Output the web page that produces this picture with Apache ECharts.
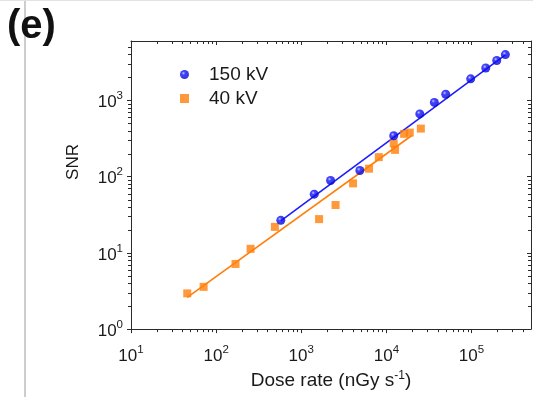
<!DOCTYPE html>
<html>
<head>
<meta charset="utf-8">
<style>
  html, body { margin: 0; padding: 0; background: #fff; }
  #chart { width: 533px; height: 397px; }
</style>
<script src="https://cdn.jsdelivr.net/npm/echarts@6/dist/echarts.min.js"></script>
</head>
<body>
<div id="chart"></div>
<script>
// Signal-to-noise ratio versus dose rate for two tube voltages (log-log)
const seriesNames = ['150 kV', '40 kV'];

// 150 kV measurements: [dose rate (nGy/s), SNR]
const dose150 = [575, 1420, 2210, 4880, 12200, 24700, 36600, 49800, 97800, 147000, 198000, 250000];
const snr150  = [26.7, 58.8, 89, 120, 343, 664, 939, 1200, 1915, 2655, 3330, 3980];

// 40 kV measurements
const dose40 = [45.8, 71.3, 169, 254, 490, 1620, 2530, 4060, 6260, 8150, 12200, 12650, 16150, 18840, 25400];
const snr40  = [2.94, 3.58, 7.15, 11.3, 21.9, 27.7, 42.4, 81.5, 127, 180, 273, 224, 363, 378, 426];

// Power-law fit lines (end points)
const fit150Dose = [575, 250000];
const fit150Snr  = [26.2, 3940];
const fit40Dose  = [45.8, 19900];
const fit40Snr   = [2.61, 346];

// Axis ranges and decade tick labels
const xRange = [10, 500000];
const yRange = [1, 6000];
const xDecades = [1, 2, 3, 4, 5];
const yDecades = [0, 1, 2, 3];

const FONT = '"Liberation Sans", Arial, Helvetica, sans-serif';
const INK = '#1a1a1a';
const AXIS = '#2a2a2a';

const pairs = (xs, ys) => xs.map((x, i) => [x, ys[i]]);

// Minor tick positions at 2..9 of each decade inside the range
function minorTicks(range) {
  const out = [];
  for (let d = Math.floor(Math.log10(range[0])); d <= Math.ceil(Math.log10(range[1])); d++) {
    for (let m = 2; m <= 9; m++) {
      const v = m * Math.pow(10, d);
      if (v > range[0] && v < range[1]) out.push(v);
    }
  }
  return out;
}

function decadeLabel(decades) {
  return function (v) {
    const e = Math.log10(v);
    const r = Math.round(e);
    if (Math.abs(e - r) > 1e-6 || decades.indexOf(r) < 0) return '';
    return '{b|10}{s|' + r + '}';
  };
}

const supRich = {
  b: { fontSize: 17, fontFamily: FONT, color: INK, lineHeight: 21, verticalAlign: 'bottom' },
  s: { fontSize: 11.5, fontFamily: FONT, color: INK, lineHeight: 12, verticalAlign: 'top' }
};

const blueBall = {
  type: 'radial', x: 0.38, y: 0.35, r: 0.7,
  colorStops: [
    { offset: 0, color: '#b8beff' },
    { offset: 0.28, color: '#1414ff' },
    { offset: 1, color: '#0000c8' }
  ]
};
const orange = '#ff7f0a';
const blue = '#1c1cff';

const chart = echarts.init(document.getElementById('chart'), null, { renderer: 'canvas' });

const tickLine = (x1, y1, x2, y2) => ({
  type: 'line',
  shape: { x1, y1, x2, y2 },
  style: { stroke: AXIS, lineWidth: 1 },
  silent: true
});

const option = {
  animation: false,
  backgroundColor: '#fff',
  grid: { left: 131, right: 2, top: 41, bottom: 63, containLabel: false },
  xAxis: [
    {
      type: 'log', logBase: 10, min: xRange[0], max: xRange[1],
      name: 'Dose rate (nGy s{s|-1})',
      nameLocation: 'middle', nameGap: 40,
      nameTextStyle: {
        fontSize: 19, fontFamily: FONT, color: INK,
        rich: { s: { fontSize: 12, fontFamily: FONT, color: INK, verticalAlign: 'top', lineHeight: 12 } },
        lineHeight: 22
      },
      axisLine: { show: true, lineStyle: { color: AXIS, width: 1 } },
      axisTick: { show: true, inside: false, length: 4, lineStyle: { color: AXIS } },
      axisLabel: { margin: 15, formatter: decadeLabel(xDecades), rich: supRich, showMaxLabel: false },
      splitLine: { show: false },
      minorTick: { show: false }
    },
    {
      type: 'log', logBase: 10, min: xRange[0], max: xRange[1], position: 'top',
      axisLine: { show: true, lineStyle: { color: AXIS, width: 1 } },
      axisTick: { show: true, inside: true, length: 4, lineStyle: { color: AXIS } },
      axisLabel: { show: false },
      splitLine: { show: false }
    }
  ],
  yAxis: [
    {
      type: 'log', logBase: 10, min: yRange[0], max: yRange[1],
      axisLine: { show: true, lineStyle: { color: AXIS, width: 1 } },
      axisTick: { show: true, inside: false, length: 4, lineStyle: { color: AXIS } },
      axisLabel: { margin: 8, formatter: decadeLabel(yDecades), rich: supRich, showMaxLabel: false },
      splitLine: { show: false }
    },
    {
      type: 'log', logBase: 10, min: yRange[0], max: yRange[1], position: 'right',
      axisLine: { show: true, lineStyle: { color: AXIS, width: 1 } },
      axisTick: { show: true, inside: true, length: 4, lineStyle: { color: AXIS } },
      axisLabel: { show: false },
      splitLine: { show: false }
    }
  ],
  legend: {
    data: [
      { name: seriesNames[0], icon: 'circle' },
      { name: seriesNames[1], icon: 'rect' }
    ],
    orient: 'vertical', left: 175, top: 60,
    itemWidth: 9, itemHeight: 9, itemGap: 5,
    textStyle: { fontSize: 19, fontFamily: FONT, color: INK, padding: [0, 0, 0, 15] },
    selectedMode: false
  },
  graphic: [
    // page rule on the left edge and top
    { type: 'rect', left: 24, top: 0, shape: { width: 2, height: 397 }, style: { fill: '#cdcdcd' }, silent: true },
    { type: 'rect', left: 0, top: 0, shape: { width: 533, height: 1 }, style: { fill: '#e2e2e2' }, silent: true },
    // panel letter
    { type: 'text', left: 7, top: 7, style: { text: '(e)', font: 'bold 40px ' + FONT, fill: '#111' }, silent: true },
    // y axis title
    { type: 'text', x: 73, y: 162, rotation: Math.PI / 2,
      style: { text: 'SNR', font: '17px ' + FONT, fill: INK, align: 'center', verticalAlign: 'middle' }, silent: true }
  ],
  series: [
    {
      name: 'minor-x', type: 'custom', xAxisIndex: 0, yAxisIndex: 0, silent: true, clip: false, z: 1,
      data: minorTicks(xRange).map(v => [v, yRange[0]]),
      renderItem: function (params, api) {
        const b = api.coord([api.value(0), yRange[0]]);
        const t = api.coord([api.value(0), yRange[1]]);
        const x = Math.round(b[0]) + 0.5;
        return { type: 'group', children: [
          tickLine(x, b[1], x, b[1] + 3),
          tickLine(x, t[1], x, t[1] + 3)
        ] };
      }
    },
    {
      name: 'minor-y', type: 'custom', xAxisIndex: 0, yAxisIndex: 0, silent: true, clip: false, z: 1,
      data: minorTicks(yRange).map(v => [xRange[0], v]),
      renderItem: function (params, api) {
        const l = api.coord([xRange[0], api.value(1)]);
        const r = api.coord([xRange[1], api.value(1)]);
        const y = Math.round(l[1]) + 0.5;
        return { type: 'group', children: [
          tickLine(l[0] - 3, y, l[0], y),
          tickLine(r[0] - 3, y, r[0], y)
        ] };
      }
    },
    {
      name: seriesNames[0] + ' fit', type: 'line', data: pairs(fit150Dose, fit150Snr),
      showSymbol: false, symbol: 'none', silent: true,
      lineStyle: { color: blue, width: 1.6 }, z: 3
    },
    {
      name: seriesNames[1] + ' fit', type: 'line', data: pairs(fit40Dose, fit40Snr),
      showSymbol: false, symbol: 'none', silent: true,
      lineStyle: { color: orange, width: 1.6 }, z: 3
    },
    {
      name: seriesNames[1], type: 'scatter', data: pairs(dose40, snr40),
      symbol: 'rect', symbolSize: 8,
      itemStyle: { color: orange }, z: 4
    },
    {
      name: seriesNames[0], type: 'scatter', data: pairs(dose150, snr150),
      symbol: 'circle', symbolSize: 9,
      itemStyle: { color: blueBall }, z: 5
    }
  ]
};

chart.setOption(option);
</script>
</body>
</html>
